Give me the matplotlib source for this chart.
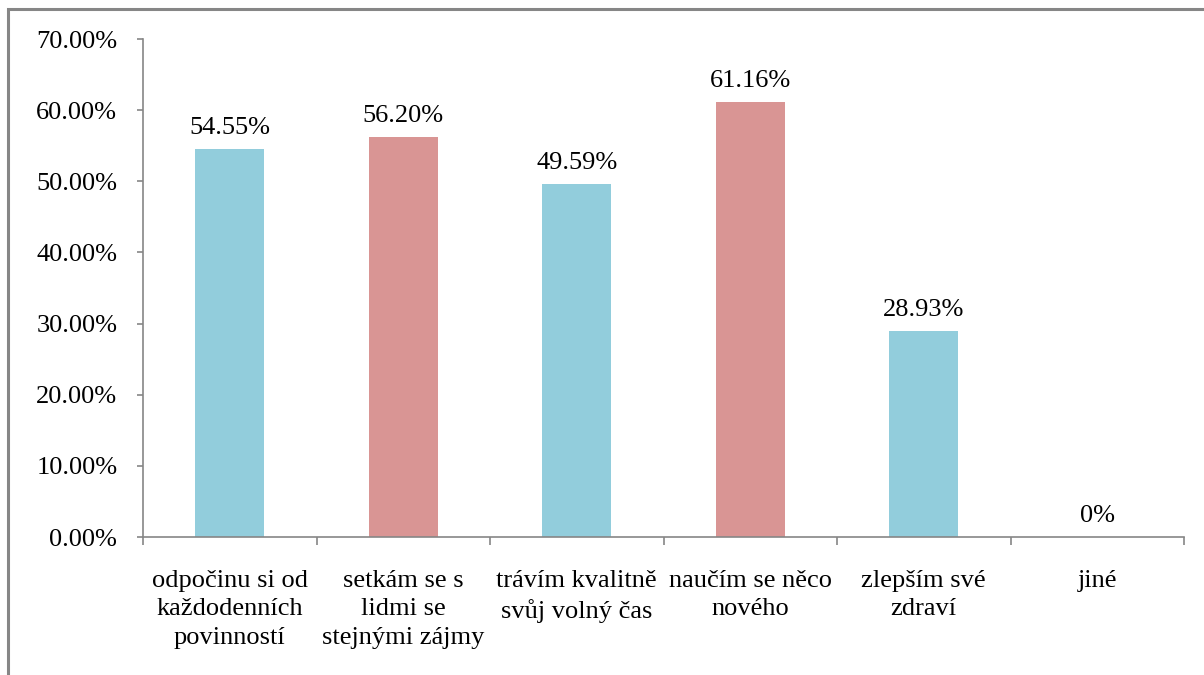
import matplotlib
matplotlib.use("Agg")
import matplotlib.pyplot as plt
from matplotlib.patches import Rectangle
from matplotlib.ticker import MultipleLocator, FuncFormatter

categories = ["odpočinu si od\nkaždodenních\npovinností",
              "setkám se s\nlidmi se\nstejnými zájmy",
              "trávím kvalitně\nsvůj volný čas",
              "naučím se něco\nnového",
              "zlepším své\nzdraví",
              "jiné"]
values = [54.55, 56.20, 49.59, 61.16, 28.93, 0.0]
labels = ["54.55%", "56.20%", "49.59%", "61.16%", "28.93%", "0%"]
colors = ["#92CDDC", "#D99594", "#92CDDC", "#D99594", "#92CDDC", "#92CDDC"]

plt.rcParams['font.family'] = ['Liberation Serif', 'DejaVu Serif']
FS = 19

fig = plt.figure(figsize=(12.04, 6.75), dpi=100)
fig.patches.append(Rectangle((8/1204, -0.1), 1.2, 1 - 9/675 + 0.1,
                             transform=fig.transFigure, fill=False,
                             edgecolor="#868686", linewidth=2.2, zorder=0))

ax = fig.add_axes([143/1204, 1 - 537/675, (1184 - 143)/1204, (537 - 39)/675])
x = list(range(len(categories)))
bars = ax.bar(x, values, width=0.40, color=colors, zorder=2)
for xi, v, lab in zip(x, values, labels):
    ax.annotate(lab, (xi, v), xytext=(0, 11), textcoords="offset points",
                ha="center", va="baseline", fontsize=FS, color="black")

ax.set_xlim(-0.5, len(categories) - 0.5)
ax.set_ylim(0, 70)
ax.yaxis.set_major_locator(MultipleLocator(10))
ax.yaxis.set_major_formatter(FuncFormatter(lambda v, p: f"{v:.2f}%"))
ax.tick_params(axis="y", labelsize=FS, length=4.5, width=1.2, color="#868686", pad=14)
ax.set_xticks([i - 0.5 for i in range(len(categories) + 1)])
ax.set_xticklabels([])
ax.set_xticks(x, minor=True)
ax.set_xticklabels(categories, minor=True, fontsize=FS, linespacing=1.36)
ax.tick_params(axis="x", which="major", length=6, width=1.2, color="#868686", direction="out")
ax.tick_params(axis="x", which="minor", length=0, pad=24)

for s in ["top", "right"]:
    ax.spines[s].set_visible(False)
for s in ["left", "bottom"]:
    ax.spines[s].set_color("#868686")
    ax.spines[s].set_linewidth(1.2)

fig.savefig("out.png", dpi=100)
